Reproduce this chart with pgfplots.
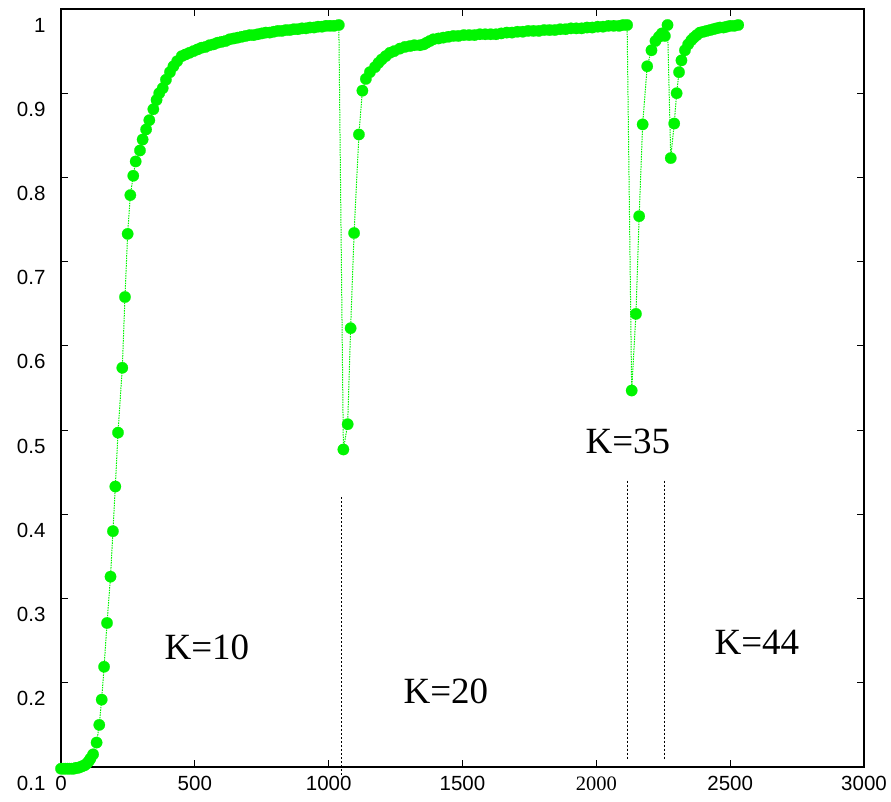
\documentclass[border=0pt]{standalone}
\usepackage{pgfplots}
\pgfplotsset{compat=1.18}
\usepackage{fontspec}
\setmainfont{Liberation Sans}
\newfontfamily\serif{Liberation Serif}
\definecolor{ptgreen}{RGB}{0,245,0}

% accuracy vs. iterations, K changes at the dotted lines
\pgfplotstableread{
x y
0 0.098
8 0.098
16 0.098
24 0.098
32 0.098
40 0.098
48 0.098
56 0.099
64 0.099
72 0.100
80 0.101
88 0.102
96 0.104
104 0.107
110 0.110
120 0.115
133 0.129
143 0.150
152 0.180
161 0.219
172 0.271
185 0.326
194 0.380
203 0.433
213 0.497
229 0.574
239 0.658
249 0.733
259 0.779
270 0.802
279 0.819
295 0.832
305 0.845
318 0.857
330 0.868
345 0.881
357 0.892
367 0.900
380 0.906
392 0.916
407 0.925
420 0.932
434 0.938
451 0.944
465 0.946
480 0.948
495 0.950
510 0.952
525 0.954
540 0.955
555 0.957
570 0.958
585 0.960
600 0.961
615 0.962
630 0.964
645 0.965
660 0.966
675 0.967
690 0.968
705 0.969
720 0.969
735 0.970
750 0.971
765 0.972
780 0.972
795 0.973
810 0.974
825 0.974
840 0.975
855 0.975
870 0.976
885 0.976
900 0.977
915 0.977
930 0.978
945 0.978
960 0.979
975 0.979
990 0.980
1005 0.980
1020 0.980
1038 0.981
1055 0.477
1071 0.507
1082 0.621
1095 0.734
1113 0.851
1126 0.903
1139 0.917
1154 0.925
1173 0.931
1186 0.936
1198 0.940
1213 0.944
1229 0.948
1245 0.950
1266 0.953
1285 0.955
1304 0.956
1320 0.957
1341 0.957
1355 0.958
1366 0.960
1378 0.962
1391 0.964
1410 0.965
1428 0.966
1447 0.967
1466 0.968
1485 0.968
1505 0.969
1525 0.969
1545 0.969
1565 0.970
1585 0.970
1605 0.970
1625 0.970
1645 0.971
1665 0.972
1685 0.972
1705 0.973
1725 0.973
1745 0.974
1765 0.974
1785 0.974
1805 0.975
1825 0.975
1845 0.975
1865 0.976
1885 0.976
1905 0.977
1925 0.977
1945 0.977
1965 0.978
1985 0.978
2005 0.979
2025 0.979
2045 0.980
2065 0.980
2085 0.980
2100 0.981
2115 0.981
2132 0.547
2148 0.638
2160 0.754
2173 0.863
2190 0.932
2206 0.951
2221 0.962
2234 0.967
2245 0.971
2256 0.968
2266 0.981
2278 0.823
2291 0.864
2300 0.900
2309 0.925
2318 0.939
2331 0.951
2343 0.958
2355 0.963
2364 0.966
2375 0.969
2387 0.972
2400 0.973
2412 0.974
2425 0.975
2437 0.976
2449 0.977
2462 0.978
2475 0.978
2487 0.979
2500 0.980
2515 0.980
2530 0.981
}\acc

\begin{document}
\begin{tikzpicture}
\path[use as bounding box] (0pt,0pt) rectangle (891pt,802pt);
\begin{axis}[
  at={(61pt,35pt)}, anchor=south west,
  scale only axis, width=803pt, height=758pt,
  xmin=0, xmax=3000, ymin=0.1, ymax=1,
  clip=false,
  axis line style={line width=1.1pt},
  tick style={black, line width=0.9pt},
  major tick length=7pt,
  tick align=inside,
  xtick={0,500,1000,1500,2000,2500,3000},
  xticklabels={0,500,1000,1500,{\serif 2000},2500,3000},
  ytick={0.1,0.2,0.3,0.4,0.5,0.6,0.7,0.8,0.9,1},
  yticklabels={0.1,0.2,0.3,0.4,0.5,0.6,0.7,0.8,0.9,1},
  every tick label/.append style={font=\fontsize{20.5}{20.5}\selectfont},
  yticklabel style={yshift=-16pt, xshift=-12pt},
  xticklabel style={yshift=-6pt},
]
\addplot[ptgreen, dash pattern=on 1.5pt off 1pt, line width=1pt, mark=*, mark size=5.7pt,
  mark options={solid, fill=ptgreen, draw=ptgreen, line width=0.2pt}]
  table[x=x, y=y] {\acc};

\addplot[black, dash pattern=on 2pt off 2pt, line width=1.6pt, no markers] coordinates {(1048,0.42) (1048,0.09)};
\addplot[black, dash pattern=on 2pt off 2pt, line width=1.6pt, no markers] coordinates {(2116,0.44) (2116,0.108)};
\addplot[black, dash pattern=on 2pt off 2pt, line width=1.6pt, no markers] coordinates {(2254,0.44) (2254,0.108)};

\node[font=\serif\fontsize{37}{37}\selectfont] at (axis cs:545,0.242) {K=10};
\node[font=\serif\fontsize{37}{37}\selectfont] at (axis cs:1438,0.190) {K=20};
\node[font=\serif\fontsize{37}{37}\selectfont] at (axis cs:2118,0.486) {K=35};
\node[font=\serif\fontsize{37}{37}\selectfont] at (axis cs:2600,0.248) {K=44};
\end{axis}
\end{tikzpicture}
\end{document}
